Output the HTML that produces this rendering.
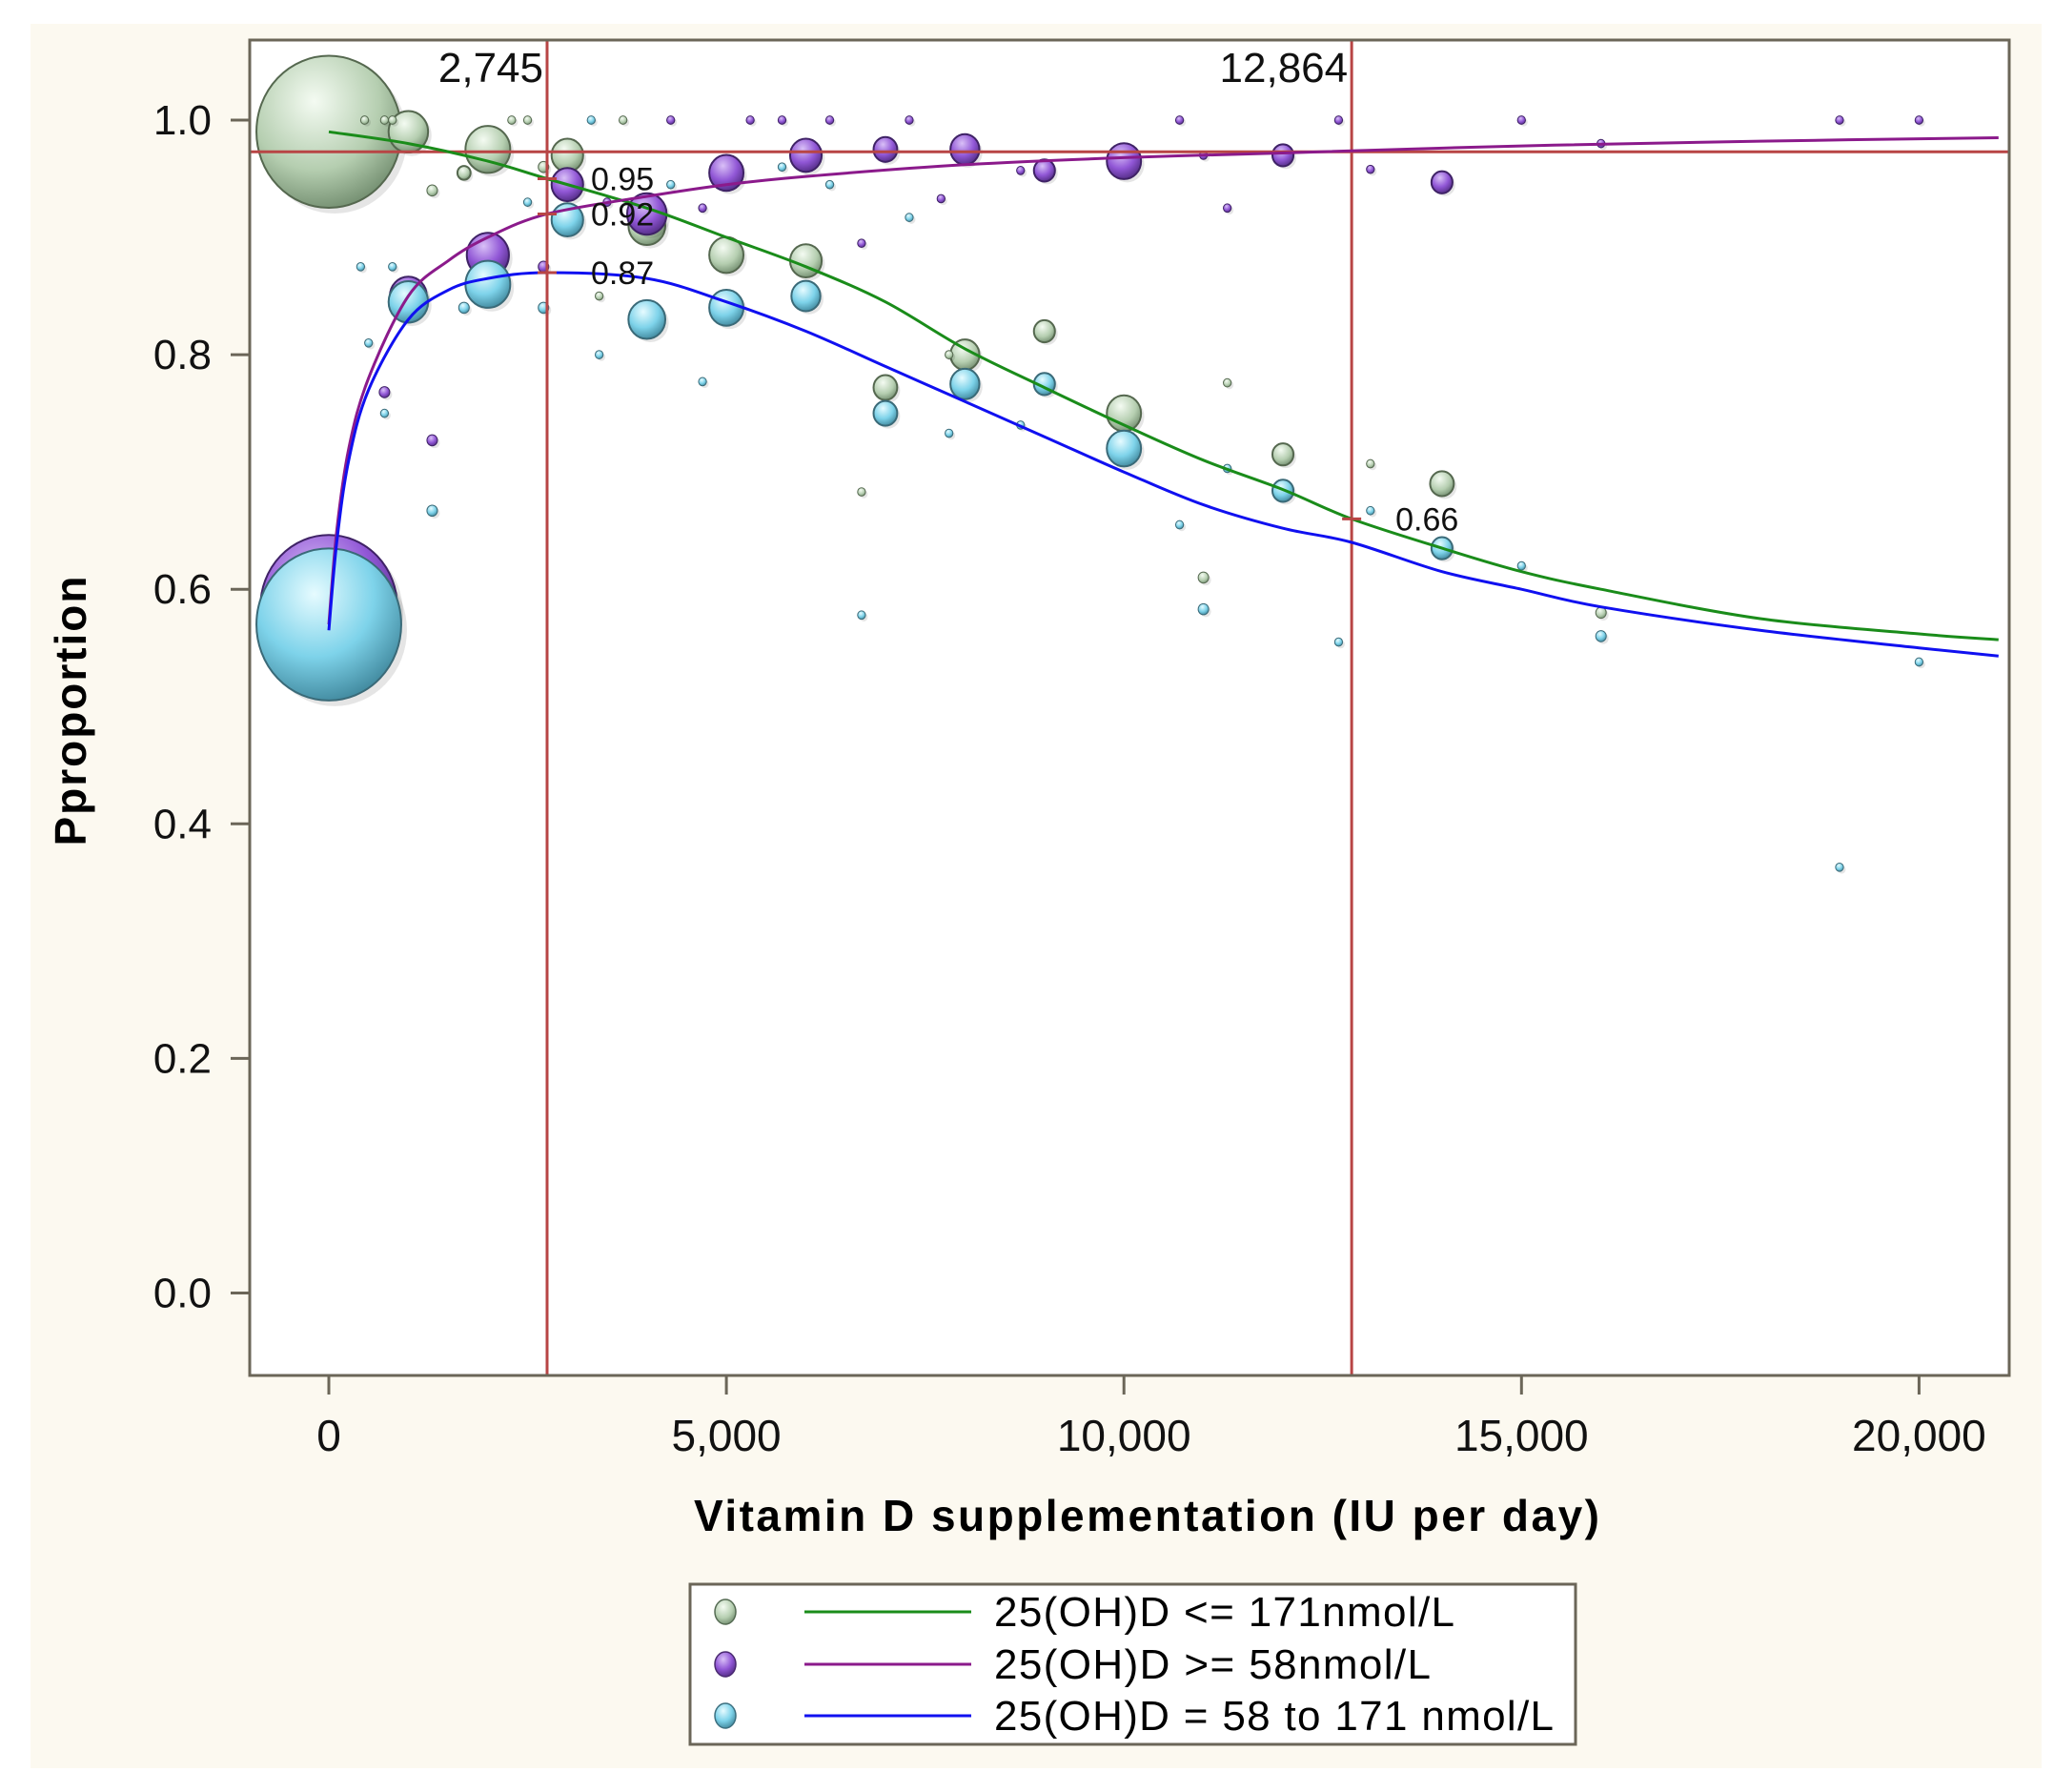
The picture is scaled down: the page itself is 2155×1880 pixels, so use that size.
<!DOCTYPE html>
<html><head><meta charset="utf-8"><style>
html,body{margin:0;padding:0;background:#fff;}
svg{display:block;font-family:"Liberation Sans",sans-serif;}
</style></head><body>
<svg id="chart" width="2155" height="1880" viewBox="0 0 2155 1880" xmlns="http://www.w3.org/2000/svg">
<defs>
<radialGradient id="gG" cx="0.4" cy="0.3" r="0.75"><stop offset="0" stop-color="#f4fbf2"/><stop offset="0.6" stop-color="#b5ceb0"/><stop offset="1" stop-color="#6f8a6c"/></radialGradient>
<radialGradient id="gP" cx="0.4" cy="0.3" r="0.75"><stop offset="0" stop-color="#d9c0f7"/><stop offset="0.55" stop-color="#9157d6"/><stop offset="1" stop-color="#4f2a80"/></radialGradient>
<radialGradient id="gB" cx="0.4" cy="0.3" r="0.75"><stop offset="0" stop-color="#e6fbff"/><stop offset="0.55" stop-color="#7ed3ea"/><stop offset="1" stop-color="#3d8499"/></radialGradient>
</defs>
<rect x="0" y="0" width="2155" height="1880" fill="#ffffff"/>
<rect x="32" y="25" width="2110" height="1830" fill="#fcf9f0"/>
<rect x="262" y="42" width="1846" height="1401" fill="#ffffff"/>
<g id="layer"></g>
<rect x="262" y="42" width="1846" height="1401" fill="none" stroke="#6b6658" stroke-width="3"/>
<text x="90" y="746" font-size="46" font-weight="bold" text-anchor="middle" transform="rotate(-90 90 746)" textLength="283">Pproportion</text>
<text x="1203" y="1606" font-size="46" font-weight="bold" text-anchor="middle" textLength="950">Vitamin D supplementation (IU per day)</text>
<g transform="translate(0,-8)">
<rect x="724" y="1670" width="929" height="168" fill="#ffffff" stroke="#6b6658" stroke-width="3"/>
<g>
<ellipse cx="761" cy="1699" rx="11" ry="13" fill="url(#gG)" stroke="#556b53" stroke-width="1.5"/>
<line x1="844" y1="1699" x2="1019" y2="1699" stroke="#1a8c1a" stroke-width="3"/>
<text x="1043" y="1714" font-size="44" textLength="483">25(OH)D &lt;= 171nmol/L</text></g>
<g>
<ellipse cx="761" cy="1754" rx="11" ry="13" fill="url(#gP)" stroke="#4a2a70" stroke-width="1.5"/>
<line x1="844" y1="1754" x2="1019" y2="1754" stroke="#8b1a8b" stroke-width="3"/>
<text x="1043" y="1769" font-size="44" textLength="458">25(OH)D &gt;= 58nmol/L</text></g>
<g>
<ellipse cx="761" cy="1808" rx="11" ry="13" fill="url(#gB)" stroke="#3d7080" stroke-width="1.5"/>
<line x1="844" y1="1808" x2="1019" y2="1808" stroke="#1010f0" stroke-width="3"/>
<text x="1043" y="1823" font-size="44" textLength="587">25(OH)D = 58 to 171 nmol/L</text></g>
</g>
</svg>
<script>
const yTicks=[0.0,0.2,0.4,0.6,0.8,1.0];
const xTicks=[0,5000,10000,15000,20000];
const xTickLabels=["0","5,000","10,000","15,000","20,000"];
const refX=[2745,12864];
const refXLabels=["2,745","12,864"];
const refY=0.973;
const annotX=[2745,2745,2745,12864];
const annotY=[0.95,0.92,0.87,0.66];
const annotLabels=["0.95","0.92","0.87","0.66"];
const greenCurveX=[0,1000,2000,2745,4000,5000,6000,7000,8000,9000,10000,11000,12000,12864,14000,15000,16000,18000,20000,21000];
const greenCurveY=[0.99,0.98,0.965,0.95,0.925,0.90,0.875,0.845,0.805,0.772,0.74,0.71,0.685,0.66,0.635,0.615,0.60,0.575,0.562,0.557];
const purpleCurveX=[0,100,250,500,1000,1500,2000,2745,4000,5000,6000,8000,10000,12000,15000,18000,21000];
const purpleCurveY=[0.57,0.65,0.72,0.78,0.85,0.88,0.90,0.92,0.935,0.945,0.952,0.962,0.968,0.972,0.978,0.982,0.985];
const blueCurveX=[0,100,250,500,1000,1500,2000,2745,4000,5000,6000,7000,8000,9000,10000,11000,12000,12864,14000,15000,16000,18000,20000,21000];
const blueCurveY=[0.565,0.64,0.71,0.77,0.83,0.855,0.865,0.87,0.865,0.845,0.82,0.79,0.76,0.73,0.70,0.672,0.652,0.64,0.615,0.60,0.585,0.565,0.55,0.543];
const greenX=[0,1000,450,700,800,2300,2500,3700,2000,3000,1700,1300,2700,4000,5000,6000,7000,8000,9000,10000,12000,14000,13100,11000,6700,3400,7800,16000,11300];
const greenY=[0.99,0.99,1.0,1.0,1.0,1.0,1.0,1.0,0.975,0.97,0.955,0.94,0.96,0.91,0.885,0.88,0.772,0.80,0.82,0.75,0.715,0.69,0.707,0.61,0.683,0.85,0.80,0.58,0.776];
const greenR=[55,15,3,3,3,3,3,3,17,12,5,4,4,14,13,12,9,11,8,13,8,9,3,4,3,3,3,4,3];
const purpleX=[0,1000,2000,3000,4000,5000,6000,7000,8000,9000,10000,12000,14000,700,1300,2700,4300,5300,5700,6300,7300,10700,12700,15000,19000,20000,3500,4700,6700,7700,8700,11000,11300,13100,16000];
const purpleY=[0.585,0.85,0.885,0.945,0.92,0.955,0.97,0.975,0.975,0.957,0.965,0.97,0.947,0.768,0.727,0.875,1.0,1.0,1.0,1.0,1.0,1.0,1.0,1.0,1.0,1.0,0.93,0.925,0.895,0.933,0.957,0.97,0.925,0.958,0.98];
const purpleR=[52,14,16,12,15,13,12,9,11,8,13,8,8,4,4,4,3,3,3,3,3,3,3,3,3,3,3,3,3,3,3,3,3,3,3];
const blueX=[0,1000,2000,3000,4000,5000,6000,7000,8000,9000,10000,12000,14000,400,800,500,700,1300,1700,2700,2500,3300,3400,4300,4700,5700,6300,6700,7300,7800,8700,10700,11000,11300,12700,13100,15000,16000,19000,20000];
const blueY=[0.57,0.845,0.86,0.915,0.83,0.84,0.85,0.75,0.775,0.775,0.72,0.684,0.635,0.875,0.875,0.81,0.75,0.667,0.84,0.84,0.93,1.0,0.80,0.945,0.777,0.96,0.945,0.578,0.917,0.733,0.74,0.655,0.583,0.703,0.555,0.667,0.62,0.56,0.363,0.538];
const blueR=[55,15,17,12,14,13,11,9,11,8,13,8,8,3,3,3,3,4,4,4,3,3,3,3,3,3,3,3,3,3,3,3,4,3,3,3,3,4,3,3];

const NS="http://www.w3.org/2000/svg";
const X0=345,KX=0.08342,Y0=1356.5,KY=1230.5,XR=2108,YB=1443;
const SC=1.381;
function xs(v){return X0+v*KX;}
function ys(v){return Y0-v*KY;}
const layer=document.getElementById('layer');
const svg=document.getElementById('chart');
function mk(tag,attrs,parent){const e=document.createElementNS(NS,tag);for(const k in attrs)e.setAttribute(k,attrs[k]);(parent||layer).appendChild(e);return e;}

yTicks.forEach(v=>{
  const t=mk('line',{x1:242,x2:262,y1:ys(v),y2:ys(v),stroke:'#6b6658','stroke-width':3},svg);
  
  
  const l=mk('text',{x:222,y:ys(v)+15,'font-size':44,'text-anchor':'end',fill:'#111'},svg);
  l.textContent=v.toFixed(1);
  
  
});
xTicks.forEach((v,i)=>{
  const t=mk('line',{x1:xs(v),x2:xs(v),y1:YB,y2:YB+20,stroke:'#6b6658','stroke-width':3},svg);
  
  
  const l=mk('text',{x:xs(v),y:1522,'font-size':46,'text-anchor':'middle',fill:'#111'},svg);
  l.textContent=xTickLabels[i];
  
  
});

function bubbles(X,Y,R,grad,stroke,name){
  const g=mk('g',{});
  
  
  X.forEach((x,i)=>{
    const r=R[i]*SC;
    const sh=mk('ellipse',{cx:xs(x)+Math.min(r*0.08,4)+2,cy:ys(Y[i])+Math.min(r*0.08,4)+2,rx:r,ry:r*1.05,fill:'#000',opacity:0.1},g);
    
    
    const c=mk('ellipse',{cx:xs(x),cy:ys(Y[i]),rx:r,ry:r*1.05,fill:grad,stroke:stroke,'stroke-width':r>6?2:1},g);
    
    
  });
}
bubbles(greenX,greenY,greenR,'url(#gG)','#55684f','green-bubbles');
bubbles(purpleX,purpleY,purpleR,'url(#gP)','#3f2266','purple-bubbles');
bubbles(blueX,blueY,blueR,'url(#gB)','#3a6a78','blue-bubbles');

refX.forEach((v,i)=>{
  const l=mk('line',{x1:xs(v),x2:xs(v),y1:42,y2:YB,stroke:'#b84545','stroke-width':3});
  
  
  const t=mk('text',{x:xs(v)-4,y:86,'font-size':44,'text-anchor':'end',fill:'#111'});
  t.textContent=refXLabels[i];
  
  
});
const hl=mk('line',{x1:262,x2:XR,y1:ys(refY),y2:ys(refY),stroke:'#b84545','stroke-width':3});



function curve(X,Y,color,name){
  const P=X.map((x,i)=>[xs(x),ys(Y[i])]);
  let d='M'+P[0][0].toFixed(1)+','+P[0][1].toFixed(1);
  for(let i=0;i<P.length-1;i++){
    const p0=P[Math.max(i-1,0)],p1=P[i],p2=P[i+1],p3=P[Math.min(i+2,P.length-1)];
    const c1=[p1[0]+(p2[0]-p0[0])/6,p1[1]+(p2[1]-p0[1])/6];
    const c2=[p2[0]-(p3[0]-p1[0])/6,p2[1]-(p3[1]-p1[1])/6];
    d+='C'+c1[0].toFixed(1)+','+c1[1].toFixed(1)+' '+c2[0].toFixed(1)+','+c2[1].toFixed(1)+' '+p2[0].toFixed(1)+','+p2[1].toFixed(1);
  }
  const p=mk('path',{d:d,fill:'none',stroke:color,'stroke-width':3,'stroke-linejoin':'round','clip-path':'url(#clipPlot)'});
  
  
}
const cp=mk('clipPath',{id:'clipPlot'},svg.querySelector('defs'));
mk('rect',{x:262,y:42,width:XR-262,height:YB-42},cp);
curve(greenCurveX,greenCurveY,'#1a8c1a','green-fit-curve');
curve(purpleCurveX,purpleCurveY,'#8b1a8b','purple-fit-curve');
curve(blueCurveX,blueCurveY,'#1010f0','blue-fit-curve');

annotX.forEach((x,i)=>{
  const m=mk('line',{x1:xs(x)-10,x2:xs(x)+10,y1:ys(annotY[i]),y2:ys(annotY[i]),stroke:'#b84545','stroke-width':3});
  
  
  const t=mk('text',{x:xs(x)+46,y:ys(annotY[i])+12,'font-size':34,fill:'#111'});
  t.textContent=annotLabels[i];
  
  
});
</script>
</body></html>
